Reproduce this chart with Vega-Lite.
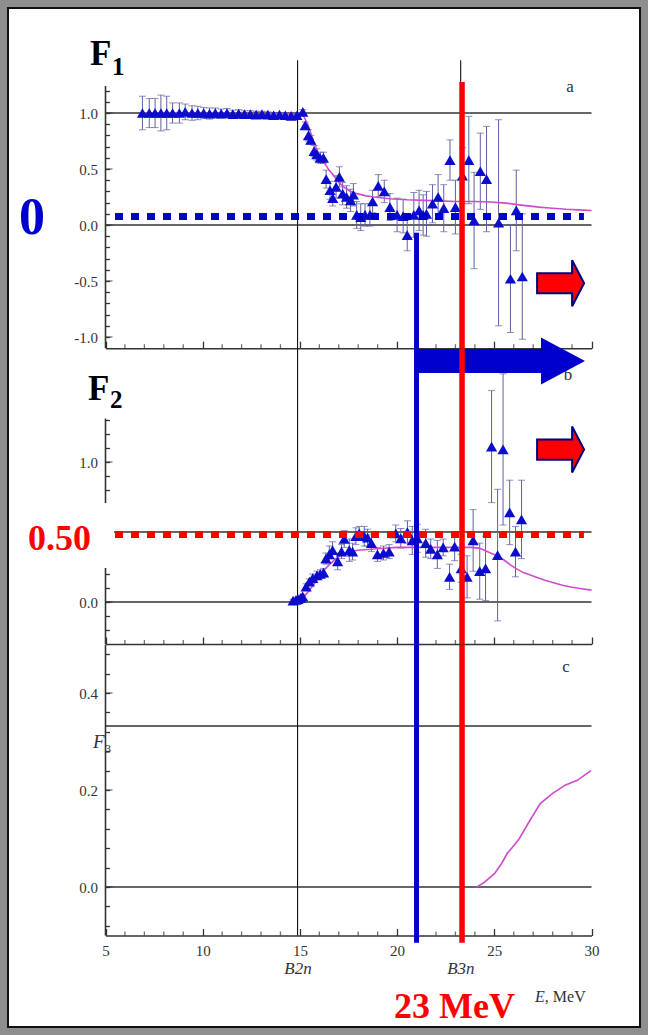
{
  "$schema": "https://vega.github.io/schema/vega-lite/v6.json",
  "width": 632,
  "height": 1019,
  "autosize": "none",
  "padding": 8,
  "background": "#8e8e8e",
  "config": {
    "view": {"fill": "#ffffff", "stroke": "#111111", "strokeWidth": 2},
    "axis": {"labelFont": "Liberation Serif", "labelFontSize": 15, "labelColor": "#333333", "tickColor": "#333333", "tickWidth": 1.3, "domainColor": "#333333", "domainWidth": 1.6, "grid": false, "labelOverlap": false, "labelFlush": false, "labelBound": false},
    "text": {"font": "Liberation Serif"}
  },
  "datasets": {
    "minorE": [
      {"E": 6}, {"E": 7}, {"E": 8}, {"E": 9}, {"E": 11}, {"E": 12}, {"E": 13}, {"E": 14}, {"E": 16}, {"E": 17},
      {"E": 18}, {"E": 19}, {"E": 21}, {"E": 22}, {"E": 23}, {"E": 24}, {"E": 26}, {"E": 27}, {"E": 28}, {"E": 29}
    ],
    "ptsA": [
      {"E": 6.9, "F": 1.0, "lo": 0.85, "hi": 1.15}, {"E": 7.25, "F": 1.0, "lo": 0.87, "hi": 1.13}, {"E": 7.55, "F": 1.0, "lo": 0.87, "hi": 1.13},
      {"E": 7.85, "F": 1.0, "lo": 0.84, "hi": 1.16}, {"E": 8.15, "F": 1.0, "lo": 0.85, "hi": 1.15}, {"E": 8.45, "F": 1.0, "lo": 0.91, "hi": 1.09},
      {"E": 8.8, "F": 1.0, "lo": 0.91, "hi": 1.09}, {"E": 9.1, "F": 1.01, "lo": 0.94, "hi": 1.08}, {"E": 9.45, "F": 1.0, "lo": 0.935, "hi": 1.065},
      {"E": 9.75, "F": 1.0, "lo": 0.94, "hi": 1.06}, {"E": 10.05, "F": 1.0, "lo": 0.95, "hi": 1.05}, {"E": 10.35, "F": 0.995, "lo": 0.945, "hi": 1.045},
      {"E": 10.65, "F": 1.0, "lo": 0.955, "hi": 1.045}, {"E": 10.95, "F": 0.995, "lo": 0.955, "hi": 1.035}, {"E": 11.25, "F": 1.0, "lo": 0.96, "hi": 1.04},
      {"E": 11.55, "F": 0.99, "lo": 0.955, "hi": 1.025}, {"E": 11.85, "F": 0.995, "lo": 0.96, "hi": 1.03}, {"E": 12.15, "F": 0.99, "lo": 0.96, "hi": 1.02},
      {"E": 12.45, "F": 0.99, "lo": 0.96, "hi": 1.02}, {"E": 12.75, "F": 0.985, "lo": 0.955, "hi": 1.015}, {"E": 13.05, "F": 0.99, "lo": 0.965, "hi": 1.015},
      {"E": 13.35, "F": 0.985, "lo": 0.96, "hi": 1.01}, {"E": 13.65, "F": 0.98, "lo": 0.955, "hi": 1.005}, {"E": 13.95, "F": 0.985, "lo": 0.965, "hi": 1.005},
      {"E": 14.25, "F": 0.98, "lo": 0.96, "hi": 1.0}, {"E": 14.55, "F": 0.975, "lo": 0.955, "hi": 0.995}, {"E": 14.85, "F": 0.98, "lo": 0.96, "hi": 1.0},
      {"E": 15.15, "F": 1.01, "lo": 0.99, "hi": 1.03}, {"E": 15.27, "F": 0.89, "lo": 0.86, "hi": 0.92}, {"E": 15.44, "F": 0.8, "lo": 0.75, "hi": 0.85},
      {"E": 15.56, "F": 0.76, "lo": 0.72, "hi": 0.8}, {"E": 15.73, "F": 0.66, "lo": 0.61, "hi": 0.71}, {"E": 15.87, "F": 0.63, "lo": 0.58, "hi": 0.68},
      {"E": 16.04, "F": 0.6, "lo": 0.55, "hi": 0.65}, {"E": 16.21, "F": 0.6, "lo": 0.55, "hi": 0.65}, {"E": 16.35, "F": 0.41, "lo": 0.33, "hi": 0.49},
      {"E": 16.55, "F": 0.31, "lo": 0.23, "hi": 0.39}, {"E": 16.69, "F": 0.24, "lo": 0.17, "hi": 0.31}, {"E": 16.86, "F": 0.34, "lo": 0.24, "hi": 0.44},
      {"E": 17.03, "F": 0.43, "lo": 0.34, "hi": 0.52}, {"E": 17.2, "F": 0.28, "lo": 0.18, "hi": 0.38}, {"E": 17.4, "F": 0.25, "lo": 0.15, "hi": 0.35},
      {"E": 17.61, "F": 0.22, "lo": 0.12, "hi": 0.32}, {"E": 17.75, "F": 0.27, "lo": 0.17, "hi": 0.37}, {"E": 17.92, "F": 0.09, "lo": -0.03, "hi": 0.21},
      {"E": 18.13, "F": 0.07, "lo": -0.05, "hi": 0.19}, {"E": 18.35, "F": 0.09, "lo": -0.01, "hi": 0.19}, {"E": 18.6, "F": 0.09, "lo": -0.01, "hi": 0.19},
      {"E": 18.74, "F": 0.21, "lo": 0.11, "hi": 0.31}, {"E": 19.03, "F": 0.35, "lo": 0.25, "hi": 0.45}, {"E": 19.34, "F": 0.3, "lo": 0.2, "hi": 0.4},
      {"E": 19.63, "F": 0.16, "lo": 0.04, "hi": 0.28}, {"E": 20.0, "F": 0.09, "lo": -0.06, "hi": 0.24}, {"E": 20.31, "F": 0.08, "lo": -0.07, "hi": 0.23},
      {"E": 20.52, "F": -0.09, "lo": -0.23, "hi": 0.05}, {"E": 20.86, "F": 0.09, "lo": -0.11, "hi": 0.29}, {"E": 21.13, "F": 0.13, "lo": -0.05, "hi": 0.31},
      {"E": 21.34, "F": 0.09, "lo": -0.09, "hi": 0.27}, {"E": 21.51, "F": 0.1, "lo": -0.1, "hi": 0.3}, {"E": 21.82, "F": 0.19, "lo": 0.02, "hi": 0.36},
      {"E": 22.11, "F": 0.25, "lo": 0.05, "hi": 0.45}, {"E": 22.4, "F": 0.15, "lo": -0.06, "hi": 0.36}, {"E": 22.72, "F": 0.58, "lo": 0.4, "hi": 0.76},
      {"E": 23.0, "F": 0.16, "lo": -0.08, "hi": 0.4}, {"E": 23.36, "F": 0.44, "lo": 0.19, "hi": 0.69}, {"E": 23.69, "F": 0.58, "lo": 0.19, "hi": 0.97},
      {"E": 23.96, "F": 0.04, "lo": -0.39, "hi": 0.47}, {"E": 24.28, "F": 0.48, "lo": 0.14, "hi": 0.82}, {"E": 24.6, "F": 0.41, "lo": -0.06, "hi": 0.88},
      {"E": 25.22, "F": 0.02, "lo": -0.9, "hi": 0.94}, {"E": 25.83, "F": -0.48, "lo": -0.96, "hi": 0.0}, {"E": 26.13, "F": 0.13, "lo": -0.23, "hi": 0.49},
      {"E": 26.44, "F": -0.46, "lo": -1.02, "hi": 0.1}
    ],
    "fitA": [
      {"E": 7.0, "F": 1.0}, {"E": 9.0, "F": 1.0}, {"E": 11.0, "F": 0.997}, {"E": 13.0, "F": 0.993}, {"E": 14.5, "F": 0.99},
      {"E": 15.0, "F": 0.985}, {"E": 15.2, "F": 0.97}, {"E": 15.4, "F": 0.9}, {"E": 15.7, "F": 0.75}, {"E": 16.0, "F": 0.62},
      {"E": 16.2, "F": 0.57}, {"E": 16.5, "F": 0.49}, {"E": 16.7, "F": 0.45}, {"E": 17.0, "F": 0.38}, {"E": 17.25, "F": 0.34},
      {"E": 17.6, "F": 0.3}, {"E": 17.95, "F": 0.28}, {"E": 18.4, "F": 0.26}, {"E": 18.8, "F": 0.25}, {"E": 19.6, "F": 0.235},
      {"E": 20.5, "F": 0.225}, {"E": 21.4, "F": 0.22}, {"E": 22.2, "F": 0.215}, {"E": 23.0, "F": 0.21}, {"E": 24.0, "F": 0.21},
      {"E": 24.8, "F": 0.205}, {"E": 25.6, "F": 0.195}, {"E": 26.5, "F": 0.175}, {"E": 27.3, "F": 0.16}, {"E": 28.0, "F": 0.15},
      {"E": 28.7, "F": 0.14}, {"E": 29.3, "F": 0.135}, {"E": 30.0, "F": 0.13}
    ],
    "ptsB": [
      {"E": 14.65, "F": 0.01, "lo": 0.0, "hi": 0.02}, {"E": 14.8, "F": 0.015, "lo": 0.005, "hi": 0.025}, {"E": 14.9, "F": 0.02, "lo": 0.01, "hi": 0.03},
      {"E": 15.05, "F": 0.03, "lo": 0.015, "hi": 0.045}, {"E": 15.14, "F": 0.04, "lo": 0.025, "hi": 0.055}, {"E": 15.32, "F": 0.11, "lo": 0.09, "hi": 0.13},
      {"E": 15.49, "F": 0.145, "lo": 0.125, "hi": 0.165}, {"E": 15.66, "F": 0.17, "lo": 0.14, "hi": 0.2}, {"E": 15.88, "F": 0.19, "lo": 0.16, "hi": 0.22},
      {"E": 16.05, "F": 0.2, "lo": 0.17, "hi": 0.23}, {"E": 16.22, "F": 0.21, "lo": 0.18, "hi": 0.24}, {"E": 16.34, "F": 0.31, "lo": 0.27, "hi": 0.35},
      {"E": 16.51, "F": 0.34, "lo": 0.28, "hi": 0.4}, {"E": 16.68, "F": 0.37, "lo": 0.31, "hi": 0.43}, {"E": 16.94, "F": 0.29, "lo": 0.23, "hi": 0.35},
      {"E": 17.14, "F": 0.36, "lo": 0.31, "hi": 0.41}, {"E": 17.28, "F": 0.45, "lo": 0.39, "hi": 0.51}, {"E": 17.54, "F": 0.37, "lo": 0.29, "hi": 0.45},
      {"E": 17.71, "F": 0.36, "lo": 0.3, "hi": 0.42}, {"E": 17.88, "F": 0.47, "lo": 0.41, "hi": 0.53}, {"E": 18.05, "F": 0.49, "lo": 0.44, "hi": 0.54},
      {"E": 18.31, "F": 0.47, "lo": 0.4, "hi": 0.54}, {"E": 18.48, "F": 0.46, "lo": 0.4, "hi": 0.52}, {"E": 18.68, "F": 0.42, "lo": 0.36, "hi": 0.48},
      {"E": 18.99, "F": 0.34, "lo": 0.29, "hi": 0.39}, {"E": 19.3, "F": 0.35, "lo": 0.3, "hi": 0.4}, {"E": 19.59, "F": 0.36, "lo": 0.31, "hi": 0.41},
      {"E": 19.93, "F": 0.49, "lo": 0.43, "hi": 0.55}, {"E": 20.19, "F": 0.455, "lo": 0.385, "hi": 0.525}, {"E": 20.53, "F": 0.5, "lo": 0.42, "hi": 0.58},
      {"E": 20.78, "F": 0.44, "lo": 0.34, "hi": 0.54}, {"E": 21.04, "F": 0.455, "lo": 0.355, "hi": 0.555}, {"E": 21.47, "F": 0.42, "lo": 0.32, "hi": 0.52},
      {"E": 21.73, "F": 0.38, "lo": 0.31, "hi": 0.45}, {"E": 22.07, "F": 0.34, "lo": 0.24, "hi": 0.44}, {"E": 22.37, "F": 0.39, "lo": 0.33, "hi": 0.45},
      {"E": 22.7, "F": 0.18, "lo": 0.09, "hi": 0.27}, {"E": 22.96, "F": 0.395, "lo": 0.295, "hi": 0.495}, {"E": 23.3, "F": 0.24, "lo": 0.14, "hi": 0.34},
      {"E": 23.6, "F": 0.18, "lo": 0.03, "hi": 0.33}, {"E": 23.91, "F": 0.44, "lo": 0.22, "hi": 0.66}, {"E": 24.25, "F": 0.22, "lo": 0.02, "hi": 0.42},
      {"E": 24.55, "F": 0.24, "lo": 0.01, "hi": 0.47}, {"E": 24.86, "F": 1.11, "lo": 0.71, "hi": 1.51}, {"E": 25.17, "F": 0.335, "lo": -0.135, "hi": 0.805},
      {"E": 25.45, "F": 1.09, "lo": 0.55, "hi": 1.63}, {"E": 25.79, "F": 0.64, "lo": 0.41, "hi": 0.87}, {"E": 26.09, "F": 0.36, "lo": 0.18, "hi": 0.54},
      {"E": 26.4, "F": 0.59, "lo": 0.31, "hi": 0.87}
    ],
    "fitB": [
      {"E": 14.63, "F": 0.0}, {"E": 15.0, "F": 0.02}, {"E": 15.23, "F": 0.04}, {"E": 15.5, "F": 0.085}, {"E": 15.74, "F": 0.13},
      {"E": 16.0, "F": 0.18}, {"E": 16.26, "F": 0.23}, {"E": 16.5, "F": 0.265}, {"E": 16.77, "F": 0.3}, {"E": 17.0, "F": 0.325},
      {"E": 17.28, "F": 0.35}, {"E": 17.6, "F": 0.36}, {"E": 17.97, "F": 0.37}, {"E": 18.5, "F": 0.375}, {"E": 19.0, "F": 0.38},
      {"E": 20.0, "F": 0.39}, {"E": 21.0, "F": 0.39}, {"E": 22.0, "F": 0.39}, {"E": 23.0, "F": 0.39}, {"E": 23.8, "F": 0.39},
      {"E": 24.2, "F": 0.385}, {"E": 24.5, "F": 0.37}, {"E": 24.8, "F": 0.35}, {"E": 25.14, "F": 0.33}, {"E": 25.5, "F": 0.3},
      {"E": 25.83, "F": 0.265}, {"E": 26.1, "F": 0.24}, {"E": 26.5, "F": 0.21}, {"E": 27.1, "F": 0.18}, {"E": 27.6, "F": 0.155},
      {"E": 28.0, "F": 0.14}, {"E": 28.5, "F": 0.12}, {"E": 29.0, "F": 0.105}, {"E": 29.5, "F": 0.095}, {"E": 30.0, "F": 0.085}
    ],
    "fitC": [
      {"E": 24.1, "F": 0.0}, {"E": 24.5, "F": 0.01}, {"E": 25.02, "F": 0.028}, {"E": 25.4, "F": 0.05}, {"E": 25.66, "F": 0.069},
      {"E": 26.0, "F": 0.085}, {"E": 26.29, "F": 0.1}, {"E": 26.8, "F": 0.135}, {"E": 27.36, "F": 0.172}, {"E": 28.0, "F": 0.193},
      {"E": 28.64, "F": 0.21}, {"E": 29.27, "F": 0.22}, {"E": 29.97, "F": 0.24}
    ]
  },
  "resolve": {"scale": {"y": "independent"}, "axis": {"x": "independent", "y": "independent"}},
  "layer": [
    {
      "layer": [
        {
          "data": {"values": [{"E": 5, "E2": 30, "F": 1.0}, {"E": 5, "E2": 30, "F": 0.0}]},
          "mark": {"type": "rule", "color": "#333333", "strokeWidth": 1.6},
          "encoding": {
            "x": {"field": "E", "type": "quantitative", "scale": {"domain": [5, 30], "range": [97.5, 583.5], "nice": false, "zero": false},
              "axis": {"orient": "bottom", "offset": -678.8, "title": null, "labels": false, "tickSize": -7, "values": [5, 10, 15, 20, 25, 30]}},
            "x2": {"field": "E2"},
            "y": {"field": "F", "type": "quantitative", "scale": {"domain": [-1.1, 1.47], "range": [340.2, 52.36], "nice": false, "zero": false},
              "axis": {"orient": "left", "offset": -97.5, "domain": false, "title": null, "labelPadding": 12, "tickSize": -4, "labelOverlap": false,
                "values": [-1,-0.9,-0.8,-0.7,-0.6,-0.5,-0.4,-0.3,-0.2,-0.1,0,0.1,0.2,0.3,0.4,0.5,0.6,0.7,0.8,0.9,1,1.1,1.2],
                "labelExpr": "abs(datum.value*2-round(datum.value*2))<0.01 ? (datum.value<0 ? '-' : '') + format(abs(datum.value), '.1f') : ''"}}
          }
        },
        {
          "data": {"values": [{"E": 5, "lo": -1.1, "hi": 1.24}]},
          "mark": {"type": "rule", "color": "#333333", "strokeWidth": 1.6},
          "encoding": {
            "x": {"field": "E", "type": "quantitative", "scale": {"domain": [5, 30], "range": [97.5, 583.5], "nice": false, "zero": false}},
            "y": {"field": "lo", "type": "quantitative", "scale": {"domain": [-1.1, 1.47], "range": [340.2, 52.36], "nice": false, "zero": false}},
            "y2": {"field": "hi"}
          }
        },
        {
          "data": {"values": [{"E": 5, "F": -1.0}, {"E": 5, "F": -0.5}, {"E": 5, "F": 0.0}, {"E": 5, "F": 0.5}, {"E": 5, "F": 1.0}]},
          "mark": {"type": "tick", "orient": "horizontal", "color": "#333333", "size": 7, "thickness": 1.3, "xOffset": 3.5},
          "encoding": {
            "x": {"field": "E", "type": "quantitative", "scale": {"domain": [5, 30], "range": [97.5, 583.5], "nice": false, "zero": false}},
            "y": {"field": "F", "type": "quantitative", "scale": {"domain": [-1.1, 1.47], "range": [340.2, 52.36], "nice": false, "zero": false}}
          }
        },
        {
          "data": {"name": "minorE"},
          "mark": {"type": "tick", "orient": "vertical", "color": "#333333", "size": 4, "thickness": 1.3, "yOffset": -2},
          "encoding": {
            "x": {"field": "E", "type": "quantitative", "scale": {"domain": [5, 30], "range": [97.5, 583.5], "nice": false, "zero": false}},
            "y": {"datum": -1.1, "type": "quantitative", "scale": {"domain": [-1.1, 1.47], "range": [340.2, 52.36], "nice": false, "zero": false}}
          }
        },
        {
          "data": {"values": [{"E": 14.88, "lo": -1.1, "hi": 1.47}, {"E": 23.27, "lo": -1.1, "hi": 1.47}]},
          "mark": {"type": "rule", "color": "#111111", "strokeWidth": 1.1},
          "encoding": {
            "x": {"field": "E", "type": "quantitative", "scale": {"domain": [5, 30], "range": [97.5, 583.5], "nice": false, "zero": false}},
            "y": {"field": "lo", "type": "quantitative", "scale": {"domain": [-1.1, 1.47], "range": [340.2, 52.36], "nice": false, "zero": false}},
            "y2": {"field": "hi"}
          }
        },
        {
          "data": {"name": "ptsA"},
          "mark": {"type": "rule", "color": "#5f5fa3", "strokeWidth": 1},
          "encoding": {
            "x": {"field": "E", "type": "quantitative", "scale": {"domain": [5, 30], "range": [97.5, 583.5], "nice": false, "zero": false}},
            "y": {"field": "lo", "type": "quantitative", "scale": {"domain": [-1.1, 1.47], "range": [340.2, 52.36], "nice": false, "zero": false}},
            "y2": {"field": "hi"}
          }
        },
        {
          "data": {"name": "ptsA"},
          "mark": {"type": "tick", "orient": "horizontal", "color": "#5f5fa3", "size": 7, "thickness": 1},
          "encoding": {
            "x": {"field": "E", "type": "quantitative", "scale": {"domain": [5, 30], "range": [97.5, 583.5], "nice": false, "zero": false}},
            "y": {"field": "lo", "type": "quantitative", "scale": {"domain": [-1.1, 1.47], "range": [340.2, 52.36], "nice": false, "zero": false}}
          }
        },
        {
          "data": {"name": "ptsA"},
          "mark": {"type": "tick", "orient": "horizontal", "color": "#5f5fa3", "size": 7, "thickness": 1},
          "encoding": {
            "x": {"field": "E", "type": "quantitative", "scale": {"domain": [5, 30], "range": [97.5, 583.5], "nice": false, "zero": false}},
            "y": {"field": "hi", "type": "quantitative", "scale": {"domain": [-1.1, 1.47], "range": [340.2, 52.36], "nice": false, "zero": false}}
          }
        },
        {
          "data": {"name": "fitA"},
          "mark": {"type": "line", "color": "#d04ad0", "strokeWidth": 1.6},
          "encoding": {
            "x": {"field": "E", "type": "quantitative", "scale": {"domain": [5, 30], "range": [97.5, 583.5], "nice": false, "zero": false}},
            "y": {"field": "F", "type": "quantitative", "scale": {"domain": [-1.1, 1.47], "range": [340.2, 52.36], "nice": false, "zero": false}}
          }
        },
        {
          "data": {"name": "ptsA"},
          "mark": {"type": "point", "shape": "triangle-up", "filled": true, "color": "#0c0ccc", "opacity": 1, "size": 125},
          "encoding": {
            "x": {"field": "E", "type": "quantitative", "scale": {"domain": [5, 30], "range": [97.5, 583.5], "nice": false, "zero": false}},
            "y": {"field": "F", "type": "quantitative", "scale": {"domain": [-1.1, 1.47], "range": [340.2, 52.36], "nice": false, "zero": false}}
          }
        },
        {
          "data": {"values": [{"E": 5.49, "E2": 29.61, "F": 0}]},
          "mark": {"type": "rule", "color": "#0000cc", "strokeWidth": 7, "strokeDash": [8, 8], "yOffset": -8.5},
          "encoding": {
            "x": {"field": "E", "type": "quantitative", "scale": {"domain": [5, 30], "range": [97.5, 583.5], "nice": false, "zero": false}},
            "x2": {"field": "E2"},
            "y": {"field": "F", "type": "quantitative", "scale": {"domain": [-1.1, 1.47], "range": [340.2, 52.36], "nice": false, "zero": false}}
          }
        },
        {
          "data": {"values": [{"E": 0.55, "F": -0.08, "t": "0"}]},
          "mark": {"type": "text", "align": "left", "baseline": "alphabetic", "fontSize": 52, "fontWeight": "bold", "color": "#0000cc"},
          "encoding": {
            "x": {"field": "E", "type": "quantitative", "scale": {"domain": [5, 30], "range": [97.5, 583.5], "nice": false, "zero": false}},
            "y": {"field": "F", "type": "quantitative", "scale": {"domain": [-1.1, 1.47], "range": [340.2, 52.36], "nice": false, "zero": false}},
            "text": {"field": "t"}
          }
        },
        {
          "data": {"values": [{"E": 4.2, "F": 1.4286, "t": "F"}]},
          "mark": {"type": "text", "align": "left", "baseline": "alphabetic", "fontSize": 35, "fontWeight": "bold", "color": "#000000"},
          "encoding": {
            "x": {"field": "E", "type": "quantitative", "scale": {"domain": [5, 30], "range": [97.5, 583.5], "nice": false, "zero": false}},
            "y": {"field": "F", "type": "quantitative", "scale": {"domain": [-1.1, 1.47], "range": [340.2, 52.36], "nice": false, "zero": false}},
            "text": {"field": "t"}
          }
        },
        {
          "data": {"values": [{"E": 5.33, "F": 1.339, "t": "1"}]},
          "mark": {"type": "text", "align": "left", "baseline": "alphabetic", "fontSize": 25, "fontWeight": "bold", "color": "#000000"},
          "encoding": {
            "x": {"field": "E", "type": "quantitative", "scale": {"domain": [5, 30], "range": [97.5, 583.5], "nice": false, "zero": false}},
            "y": {"field": "F", "type": "quantitative", "scale": {"domain": [-1.1, 1.47], "range": [340.2, 52.36], "nice": false, "zero": false}},
            "text": {"field": "t"}
          }
        },
        {
          "data": {"values": [{"E": 28.89, "F": 1.1875, "t": "a"}, {"E": 28.79, "F": -1.384, "t": "b"}]},
          "mark": {"type": "text", "align": "center", "baseline": "alphabetic", "fontSize": 17, "color": "#333333"},
          "encoding": {
            "x": {"field": "E", "type": "quantitative", "scale": {"domain": [5, 30], "range": [97.5, 583.5], "nice": false, "zero": false}},
            "y": {"field": "F", "type": "quantitative", "scale": {"domain": [-1.1, 1.47], "range": [340.2, 52.36], "nice": false, "zero": false}},
            "text": {"field": "t"}
          }
        },
        {
          "data": {"values": [{"E": 28.41, "F": -0.52}]},
          "mark": {"type": "point", "shape": "M-1,-0.43L0.49,-0.43L0.49,-0.98L1,0L0.49,0.98L0.49,0.43L-1,0.43Z", "filled": true, "fill": "#ff0000", "stroke": "#000080", "strokeWidth": 2, "opacity": 1, "size": 2209},
          "encoding": {
            "x": {"field": "E", "type": "quantitative", "scale": {"domain": [5, 30], "range": [97.5, 583.5], "nice": false, "zero": false}},
            "y": {"field": "F", "type": "quantitative", "scale": {"domain": [-1.1, 1.47], "range": [340.2, 52.36], "nice": false, "zero": false}}
          }
        },
        {
          "data": {"values": [{"E": 25.37, "F": -1.214}]},
          "mark": {"type": "point", "shape": "M-1,-0.144L0.473,-0.144L0.473,-0.281L1,0L0.473,0.281L0.473,0.144L-1,0.144Z", "filled": true, "fill": "#0000cc", "strokeWidth": 0, "opacity": 1, "size": 27889},
          "encoding": {
            "x": {"field": "E", "type": "quantitative", "scale": {"domain": [5, 30], "range": [97.5, 583.5], "nice": false, "zero": false}},
            "y": {"field": "F", "type": "quantitative", "scale": {"domain": [-1.1, 1.47], "range": [340.2, 52.36], "nice": false, "zero": false}}
          }
        },
        {
          "data": {"values": [{"E": 21.0, "lo": -1.1, "hi": -0.069}]},
          "mark": {"type": "rule", "color": "#0000cc", "strokeWidth": 5},
          "encoding": {
            "x": {"field": "E", "type": "quantitative", "scale": {"domain": [5, 30], "range": [97.5, 583.5], "nice": false, "zero": false}},
            "y": {"field": "lo", "type": "quantitative", "scale": {"domain": [-1.1, 1.47], "range": [340.2, 52.36], "nice": false, "zero": false}},
            "y2": {"field": "hi"}
          }
        },
        {
          "data": {"values": [{"E": 23.34, "lo": -1.1, "hi": 1.277}]},
          "mark": {"type": "rule", "color": "#ff0000", "strokeWidth": 5.5},
          "encoding": {
            "x": {"field": "E", "type": "quantitative", "scale": {"domain": [5, 30], "range": [97.5, 583.5], "nice": false, "zero": false}},
            "y": {"field": "lo", "type": "quantitative", "scale": {"domain": [-1.1, 1.47], "range": [340.2, 52.36], "nice": false, "zero": false}},
            "y2": {"field": "hi"}
          }
        }
      ]
    },
    {
      "layer": [
        {
          "data": {"values": [{"E": 5, "E2": 30, "F": 0.5}, {"E": 5, "E2": 30, "F": 0.0}]},
          "mark": {"type": "rule", "color": "#333333", "strokeWidth": 1.6},
          "encoding": {
            "x": {"field": "E", "type": "quantitative", "scale": {"domain": [5, 30], "range": [97.5, 583.5], "nice": false, "zero": false},
              "axis": {"orient": "bottom", "offset": -383, "title": null, "labels": false, "tickSize": -7, "values": [5, 10, 15, 20, 25, 30]}},
            "x2": {"field": "E2"},
            "y": {"field": "F", "type": "quantitative", "scale": {"domain": [-0.3, 1.81], "range": [636, 340.6], "nice": false, "zero": false},
              "axis": {"orient": "left", "offset": -97.5, "domain": false, "title": null, "labelPadding": 12, "tickSize": -4, "labelOverlap": false,
                "values": [-0.2,-0.1,0,0.1,0.2,0.8,0.9,1,1.1,1.2,1.3],
                "labelExpr": "abs(datum.value*2-round(datum.value*2))<0.01 ? (datum.value<0 ? '-' : '') + format(abs(datum.value), '.1f') : ''"}}
          }
        },
        {
          "data": {"values": [{"E": 5, "lo": -0.3, "hi": 1.31}]},
          "mark": {"type": "rule", "color": "#333333", "strokeWidth": 1.6},
          "encoding": {
            "x": {"field": "E", "type": "quantitative", "scale": {"domain": [5, 30], "range": [97.5, 583.5], "nice": false, "zero": false}},
            "y": {"field": "lo", "type": "quantitative", "scale": {"domain": [-0.3, 1.81], "range": [636, 340.6], "nice": false, "zero": false}},
            "y2": {"field": "hi"}
          }
        },
        {
          "data": {"values": [{"E": 5, "F": 0.0}, {"E": 5, "F": 1.0}]},
          "mark": {"type": "tick", "orient": "horizontal", "color": "#333333", "size": 7, "thickness": 1.3, "xOffset": 3.5},
          "encoding": {
            "x": {"field": "E", "type": "quantitative", "scale": {"domain": [5, 30], "range": [97.5, 583.5], "nice": false, "zero": false}},
            "y": {"field": "F", "type": "quantitative", "scale": {"domain": [-0.3, 1.81], "range": [636, 340.6], "nice": false, "zero": false}}
          }
        },
        {
          "data": {"name": "minorE"},
          "mark": {"type": "tick", "orient": "vertical", "color": "#333333", "size": 4, "thickness": 1.3, "yOffset": -2},
          "encoding": {
            "x": {"field": "E", "type": "quantitative", "scale": {"domain": [5, 30], "range": [97.5, 583.5], "nice": false, "zero": false}},
            "y": {"datum": -0.3, "type": "quantitative", "scale": {"domain": [-0.3, 1.81], "range": [636, 340.6], "nice": false, "zero": false}}
          }
        },
        {
          "data": {"values": [{"E": 14.88, "lo": -0.3, "hi": 1.81}, {"E": 23.27, "lo": -0.3, "hi": 1.81}]},
          "mark": {"type": "rule", "color": "#111111", "strokeWidth": 1.1},
          "encoding": {
            "x": {"field": "E", "type": "quantitative", "scale": {"domain": [5, 30], "range": [97.5, 583.5], "nice": false, "zero": false}},
            "y": {"field": "lo", "type": "quantitative", "scale": {"domain": [-0.3, 1.81], "range": [636, 340.6], "nice": false, "zero": false}},
            "y2": {"field": "hi"}
          }
        },
        {
          "data": {"name": "ptsB"},
          "mark": {"type": "rule", "color": "#5f5fa3", "strokeWidth": 1},
          "encoding": {
            "x": {"field": "E", "type": "quantitative", "scale": {"domain": [5, 30], "range": [97.5, 583.5], "nice": false, "zero": false}},
            "y": {"field": "lo", "type": "quantitative", "scale": {"domain": [-0.3, 1.81], "range": [636, 340.6], "nice": false, "zero": false}},
            "y2": {"field": "hi"}
          }
        },
        {
          "data": {"name": "ptsB"},
          "mark": {"type": "tick", "orient": "horizontal", "color": "#5f5fa3", "size": 7, "thickness": 1},
          "encoding": {
            "x": {"field": "E", "type": "quantitative", "scale": {"domain": [5, 30], "range": [97.5, 583.5], "nice": false, "zero": false}},
            "y": {"field": "lo", "type": "quantitative", "scale": {"domain": [-0.3, 1.81], "range": [636, 340.6], "nice": false, "zero": false}}
          }
        },
        {
          "data": {"name": "ptsB"},
          "mark": {"type": "tick", "orient": "horizontal", "color": "#5f5fa3", "size": 7, "thickness": 1},
          "encoding": {
            "x": {"field": "E", "type": "quantitative", "scale": {"domain": [5, 30], "range": [97.5, 583.5], "nice": false, "zero": false}},
            "y": {"field": "hi", "type": "quantitative", "scale": {"domain": [-0.3, 1.81], "range": [636, 340.6], "nice": false, "zero": false}}
          }
        },
        {
          "data": {"name": "fitB"},
          "mark": {"type": "line", "color": "#d04ad0", "strokeWidth": 1.6},
          "encoding": {
            "x": {"field": "E", "type": "quantitative", "scale": {"domain": [5, 30], "range": [97.5, 583.5], "nice": false, "zero": false}},
            "y": {"field": "F", "type": "quantitative", "scale": {"domain": [-0.3, 1.81], "range": [636, 340.6], "nice": false, "zero": false}}
          }
        },
        {
          "data": {"name": "ptsB"},
          "mark": {"type": "point", "shape": "triangle-up", "filled": true, "color": "#0c0ccc", "opacity": 1, "size": 125},
          "encoding": {
            "x": {"field": "E", "type": "quantitative", "scale": {"domain": [5, 30], "range": [97.5, 583.5], "nice": false, "zero": false}},
            "y": {"field": "F", "type": "quantitative", "scale": {"domain": [-0.3, 1.81], "range": [636, 340.6], "nice": false, "zero": false}}
          }
        },
        {
          "data": {"values": [{"E": 5.49, "E2": 29.61, "F": 0.5}]},
          "mark": {"type": "rule", "color": "#ff0000", "strokeWidth": 7, "strokeDash": [8, 8], "yOffset": 2.5},
          "encoding": {
            "x": {"field": "E", "type": "quantitative", "scale": {"domain": [5, 30], "range": [97.5, 583.5], "nice": false, "zero": false}},
            "x2": {"field": "E2"},
            "y": {"field": "F", "type": "quantitative", "scale": {"domain": [-0.3, 1.81], "range": [636, 340.6], "nice": false, "zero": false}}
          }
        },
        {
          "data": {"values": [{"E": 0.6, "E2": 5.44, "lo": 0.243, "hi": 0.707}]},
          "mark": {"type": "rect", "fill": "#ffffff", "opacity": 1},
          "encoding": {
            "x": {"field": "E", "type": "quantitative", "scale": {"domain": [5, 30], "range": [97.5, 583.5], "nice": false, "zero": false}},
            "x2": {"field": "E2"},
            "y": {"field": "lo", "type": "quantitative", "scale": {"domain": [-0.3, 1.81], "range": [636, 340.6], "nice": false, "zero": false}},
            "y2": {"field": "hi"}
          }
        },
        {
          "data": {"values": [{"E": 1.01, "F": 0.371, "t": "0.50"}]},
          "mark": {"type": "text", "align": "left", "baseline": "alphabetic", "fontSize": 36, "fontWeight": "bold", "color": "#ff0000"},
          "encoding": {
            "x": {"field": "E", "type": "quantitative", "scale": {"domain": [5, 30], "range": [97.5, 583.5], "nice": false, "zero": false}},
            "y": {"field": "F", "type": "quantitative", "scale": {"domain": [-0.3, 1.81], "range": [636, 340.6], "nice": false, "zero": false}},
            "text": {"field": "t"}
          }
        },
        {
          "data": {"values": [{"E": 4.1, "F": 1.443, "t": "F"}]},
          "mark": {"type": "text", "align": "left", "baseline": "alphabetic", "fontSize": 35, "fontWeight": "bold", "color": "#000000"},
          "encoding": {
            "x": {"field": "E", "type": "quantitative", "scale": {"domain": [5, 30], "range": [97.5, 583.5], "nice": false, "zero": false}},
            "y": {"field": "F", "type": "quantitative", "scale": {"domain": [-0.3, 1.81], "range": [636, 340.6], "nice": false, "zero": false}},
            "text": {"field": "t"}
          }
        },
        {
          "data": {"values": [{"E": 5.23, "F": 1.386, "t": "2"}]},
          "mark": {"type": "text", "align": "left", "baseline": "alphabetic", "fontSize": 25, "fontWeight": "bold", "color": "#000000"},
          "encoding": {
            "x": {"field": "E", "type": "quantitative", "scale": {"domain": [5, 30], "range": [97.5, 583.5], "nice": false, "zero": false}},
            "y": {"field": "F", "type": "quantitative", "scale": {"domain": [-0.3, 1.81], "range": [636, 340.6], "nice": false, "zero": false}},
            "text": {"field": "t"}
          }
        },
        {
          "data": {"values": [{"E": 28.41, "F": 1.089}]},
          "mark": {"type": "point", "shape": "M-1,-0.43L0.49,-0.43L0.49,-0.98L1,0L0.49,0.98L0.49,0.43L-1,0.43Z", "filled": true, "fill": "#ff0000", "stroke": "#000080", "strokeWidth": 2, "opacity": 1, "size": 2209},
          "encoding": {
            "x": {"field": "E", "type": "quantitative", "scale": {"domain": [5, 30], "range": [97.5, 583.5], "nice": false, "zero": false}},
            "y": {"field": "F", "type": "quantitative", "scale": {"domain": [-0.3, 1.81], "range": [636, 340.6], "nice": false, "zero": false}}
          }
        },
        {
          "data": {"values": [{"E": 21.0, "lo": -0.3, "hi": 1.81}]},
          "mark": {"type": "rule", "color": "#0000cc", "strokeWidth": 5},
          "encoding": {
            "x": {"field": "E", "type": "quantitative", "scale": {"domain": [5, 30], "range": [97.5, 583.5], "nice": false, "zero": false}},
            "y": {"field": "lo", "type": "quantitative", "scale": {"domain": [-0.3, 1.81], "range": [636, 340.6], "nice": false, "zero": false}},
            "y2": {"field": "hi"}
          }
        },
        {
          "data": {"values": [{"E": 23.34, "lo": -0.3, "hi": 1.81}]},
          "mark": {"type": "rule", "color": "#ff0000", "strokeWidth": 5.5},
          "encoding": {
            "x": {"field": "E", "type": "quantitative", "scale": {"domain": [5, 30], "range": [97.5, 583.5], "nice": false, "zero": false}},
            "y": {"field": "lo", "type": "quantitative", "scale": {"domain": [-0.3, 1.81], "range": [636, 340.6], "nice": false, "zero": false}},
            "y2": {"field": "hi"}
          }
        }
      ]
    },
    {
      "layer": [
        {
          "data": {"values": [{"E": 5, "E2": 30, "F": 0.0}, {"E": 5, "E2": 30, "F": 0.332}]},
          "mark": {"type": "rule", "color": "#333333", "strokeWidth": 1.6},
          "encoding": {
            "x": {"field": "E", "type": "quantitative", "scale": {"domain": [5, 30], "range": [97.5, 583.5], "nice": false, "zero": false},
              "axis": {"orient": "bottom", "offset": -91.5, "title": null, "labelPadding": 15, "tickSize": -7, "labelOverlap": false, "values": [5, 10, 15, 20, 25, 30]}},
            "x2": {"field": "E2"},
            "y": {"field": "F", "type": "quantitative", "scale": {"domain": [-0.1, 0.5], "range": [927.5, 636.5], "nice": false, "zero": false},
              "axis": {"orient": "left", "offset": -97.5, "domain": false, "title": null, "labelPadding": 12, "tickSize": -4, "labelOverlap": false,
                "values": [-0.08,-0.04,0,0.04,0.08,0.12,0.16,0.2,0.24,0.28,0.32,0.36,0.4,0.44,0.48],
                "labelExpr": "abs(datum.value*5-round(datum.value*5))<0.01 ? format(datum.value, '.1f') : ''"}}
          }
        },
        {
          "data": {"values": [{"E": 5, "lo": -0.1, "hi": 0.5}]},
          "mark": {"type": "rule", "color": "#333333", "strokeWidth": 1.6},
          "encoding": {
            "x": {"field": "E", "type": "quantitative", "scale": {"domain": [5, 30], "range": [97.5, 583.5], "nice": false, "zero": false}},
            "y": {"field": "lo", "type": "quantitative", "scale": {"domain": [-0.1, 0.5], "range": [927.5, 636.5], "nice": false, "zero": false}},
            "y2": {"field": "hi"}
          }
        },
        {
          "data": {"values": [{"E": 5, "F": 0.0}, {"E": 5, "F": 0.2}, {"E": 5, "F": 0.4}]},
          "mark": {"type": "tick", "orient": "horizontal", "color": "#333333", "size": 7, "thickness": 1.3, "xOffset": 3.5},
          "encoding": {
            "x": {"field": "E", "type": "quantitative", "scale": {"domain": [5, 30], "range": [97.5, 583.5], "nice": false, "zero": false}},
            "y": {"field": "F", "type": "quantitative", "scale": {"domain": [-0.1, 0.5], "range": [927.5, 636.5], "nice": false, "zero": false}}
          }
        },
        {
          "data": {"name": "minorE"},
          "mark": {"type": "tick", "orient": "vertical", "color": "#333333", "size": 4, "thickness": 1.3, "yOffset": -2},
          "encoding": {
            "x": {"field": "E", "type": "quantitative", "scale": {"domain": [5, 30], "range": [97.5, 583.5], "nice": false, "zero": false}},
            "y": {"datum": -0.1, "type": "quantitative", "scale": {"domain": [-0.1, 0.5], "range": [927.5, 636.5], "nice": false, "zero": false}}
          }
        },
        {
          "data": {"values": [{"E": 14.88, "lo": -0.1, "hi": 0.5}, {"E": 23.27, "lo": -0.1, "hi": 0.5}]},
          "mark": {"type": "rule", "color": "#111111", "strokeWidth": 1.1},
          "encoding": {
            "x": {"field": "E", "type": "quantitative", "scale": {"domain": [5, 30], "range": [97.5, 583.5], "nice": false, "zero": false}},
            "y": {"field": "lo", "type": "quantitative", "scale": {"domain": [-0.1, 0.5], "range": [927.5, 636.5], "nice": false, "zero": false}},
            "y2": {"field": "hi"}
          }
        },
        {
          "data": {"name": "fitC"},
          "mark": {"type": "line", "color": "#d04ad0", "strokeWidth": 1.6},
          "encoding": {
            "x": {"field": "E", "type": "quantitative", "scale": {"domain": [5, 30], "range": [97.5, 583.5], "nice": false, "zero": false}},
            "y": {"field": "F", "type": "quantitative", "scale": {"domain": [-0.1, 0.5], "range": [927.5, 636.5], "nice": false, "zero": false}}
          }
        },
        {
          "data": {"values": [{"E": 4.36, "F": 0.287, "t": "F"}]},
          "mark": {"type": "text", "align": "left", "baseline": "alphabetic", "fontSize": 19, "fontStyle": "italic", "color": "#333333"},
          "encoding": {
            "x": {"field": "E", "type": "quantitative", "scale": {"domain": [5, 30], "range": [97.5, 583.5], "nice": false, "zero": false}},
            "y": {"field": "F", "type": "quantitative", "scale": {"domain": [-0.1, 0.5], "range": [927.5, 636.5], "nice": false, "zero": false}},
            "text": {"field": "t"}
          }
        },
        {
          "data": {"values": [{"E": 4.97, "F": 0.276, "t": "3"}]},
          "mark": {"type": "text", "align": "left", "baseline": "alphabetic", "fontSize": 12, "color": "#333333"},
          "encoding": {
            "x": {"field": "E", "type": "quantitative", "scale": {"domain": [5, 30], "range": [97.5, 583.5], "nice": false, "zero": false}},
            "y": {"field": "F", "type": "quantitative", "scale": {"domain": [-0.1, 0.5], "range": [927.5, 636.5], "nice": false, "zero": false}},
            "text": {"field": "t"}
          }
        },
        {
          "data": {"values": [{"E": 28.69, "F": 0.443, "t": "c"}]},
          "mark": {"type": "text", "align": "center", "baseline": "alphabetic", "fontSize": 17, "color": "#333333"},
          "encoding": {
            "x": {"field": "E", "type": "quantitative", "scale": {"domain": [5, 30], "range": [97.5, 583.5], "nice": false, "zero": false}},
            "y": {"field": "F", "type": "quantitative", "scale": {"domain": [-0.1, 0.5], "range": [927.5, 636.5], "nice": false, "zero": false}},
            "text": {"field": "t"}
          }
        },
        {
          "data": {"values": [{"E": 14.9, "F": -0.18, "t": "B2n"}, {"E": 23.28, "F": -0.18, "t": "B3n"}]},
          "mark": {"type": "text", "align": "center", "baseline": "alphabetic", "fontSize": 17, "fontStyle": "italic", "color": "#333333"},
          "encoding": {
            "x": {"field": "E", "type": "quantitative", "scale": {"domain": [5, 30], "range": [97.5, 583.5], "nice": false, "zero": false}},
            "y": {"field": "F", "type": "quantitative", "scale": {"domain": [-0.1, 0.5], "range": [927.5, 636.5], "nice": false, "zero": false}},
            "text": {"field": "t"}
          }
        },
        {
          "data": {"values": [{"E": 27.09, "F": -0.237, "t": "E"}]},
          "mark": {"type": "text", "align": "left", "baseline": "alphabetic", "fontSize": 16, "fontStyle": "italic", "color": "#333333"},
          "encoding": {
            "x": {"field": "E", "type": "quantitative", "scale": {"domain": [5, 30], "range": [97.5, 583.5], "nice": false, "zero": false}},
            "y": {"field": "F", "type": "quantitative", "scale": {"domain": [-0.1, 0.5], "range": [927.5, 636.5], "nice": false, "zero": false}},
            "text": {"field": "t"}
          }
        },
        {
          "data": {"values": [{"E": 27.6, "F": -0.237, "t": ", MeV"}]},
          "mark": {"type": "text", "align": "left", "baseline": "alphabetic", "fontSize": 16, "color": "#333333"},
          "encoding": {
            "x": {"field": "E", "type": "quantitative", "scale": {"domain": [5, 30], "range": [97.5, 583.5], "nice": false, "zero": false}},
            "y": {"field": "F", "type": "quantitative", "scale": {"domain": [-0.1, 0.5], "range": [927.5, 636.5], "nice": false, "zero": false}},
            "text": {"field": "t"}
          }
        },
        {
          "data": {"values": [{"E": 22.95, "F": -0.27, "t": "23 MeV"}]},
          "mark": {"type": "text", "align": "center", "baseline": "alphabetic", "fontSize": 36, "fontWeight": "bold", "color": "#ff0000"},
          "encoding": {
            "x": {"field": "E", "type": "quantitative", "scale": {"domain": [5, 30], "range": [97.5, 583.5], "nice": false, "zero": false}},
            "y": {"field": "F", "type": "quantitative", "scale": {"domain": [-0.1, 0.5], "range": [927.5, 636.5], "nice": false, "zero": false}},
            "text": {"field": "t"}
          }
        },
        {
          "data": {"values": [{"E": 21.0, "lo": -0.115, "hi": 0.5}]},
          "mark": {"type": "rule", "color": "#0000cc", "strokeWidth": 5},
          "encoding": {
            "x": {"field": "E", "type": "quantitative", "scale": {"domain": [5, 30], "range": [97.5, 583.5], "nice": false, "zero": false}},
            "y": {"field": "lo", "type": "quantitative", "scale": {"domain": [-0.1, 0.5], "range": [927.5, 636.5], "nice": false, "zero": false}},
            "y2": {"field": "hi"}
          }
        },
        {
          "data": {"values": [{"E": 23.34, "lo": -0.115, "hi": 0.5}]},
          "mark": {"type": "rule", "color": "#ff0000", "strokeWidth": 5.5},
          "encoding": {
            "x": {"field": "E", "type": "quantitative", "scale": {"domain": [5, 30], "range": [97.5, 583.5], "nice": false, "zero": false}},
            "y": {"field": "lo", "type": "quantitative", "scale": {"domain": [-0.1, 0.5], "range": [927.5, 636.5], "nice": false, "zero": false}},
            "y2": {"field": "hi"}
          }
        }
      ]
    }
  ]
}
